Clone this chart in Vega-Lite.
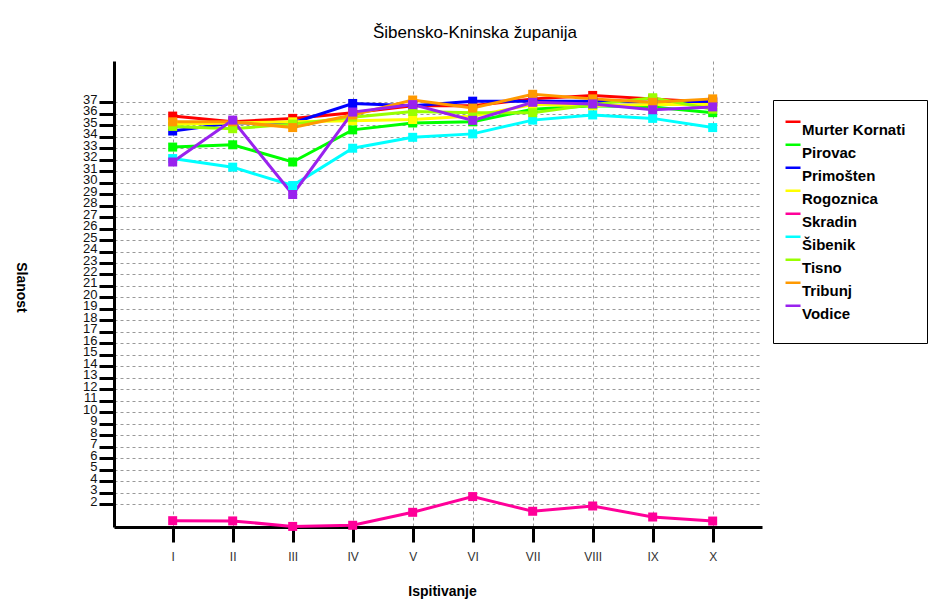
{
  "$schema": "https://vega.github.io/schema/vega-lite/v6.json",
  "width": 648,
  "height": 466,
  "autosize": "none",
  "padding": {"left": 114, "top": 61, "right": 170, "bottom": 74},
  "background": "white",
  "title": {"text": "Šibensko-Kninska županija", "font": "Liberation Sans", "fontSize": 17, "fontWeight": "normal", "color": "#000000", "anchor": "middle", "dx": 37, "offset": 19},
  "config": {"view": {"stroke": null}},
  "data": {"values": [
    {"postaja": "Murter Kornati", "ispitivanje": 1, "slanost": 35.8},
    {"postaja": "Murter Kornati", "ispitivanje": 2, "slanost": 35.3},
    {"postaja": "Murter Kornati", "ispitivanje": 3, "slanost": 35.6},
    {"postaja": "Murter Kornati", "ispitivanje": 4, "slanost": 36.1},
    {"postaja": "Murter Kornati", "ispitivanje": 5, "slanost": 36.7},
    {"postaja": "Murter Kornati", "ispitivanje": 6, "slanost": 36.7},
    {"postaja": "Murter Kornati", "ispitivanje": 7, "slanost": 37.3},
    {"postaja": "Murter Kornati", "ispitivanje": 8, "slanost": 37.6},
    {"postaja": "Murter Kornati", "ispitivanje": 9, "slanost": 37.3},
    {"postaja": "Murter Kornati", "ispitivanje": 10, "slanost": 37.0},
    {"postaja": "Pirovac", "ispitivanje": 1, "slanost": 33.1},
    {"postaja": "Pirovac", "ispitivanje": 2, "slanost": 33.3},
    {"postaja": "Pirovac", "ispitivanje": 3, "slanost": 31.8},
    {"postaja": "Pirovac", "ispitivanje": 4, "slanost": 34.6},
    {"postaja": "Pirovac", "ispitivanje": 5, "slanost": 35.2},
    {"postaja": "Pirovac", "ispitivanje": 6, "slanost": 35.3},
    {"postaja": "Pirovac", "ispitivanje": 7, "slanost": 36.4},
    {"postaja": "Pirovac", "ispitivanje": 8, "slanost": 36.7},
    {"postaja": "Pirovac", "ispitivanje": 9, "slanost": 36.6},
    {"postaja": "Pirovac", "ispitivanje": 10, "slanost": 36.1},
    {"postaja": "Primošten", "ispitivanje": 1, "slanost": 34.5},
    {"postaja": "Primošten", "ispitivanje": 2, "slanost": 35.2},
    {"postaja": "Primošten", "ispitivanje": 3, "slanost": 35.2},
    {"postaja": "Primošten", "ispitivanje": 4, "slanost": 36.9},
    {"postaja": "Primošten", "ispitivanje": 5, "slanost": 36.7},
    {"postaja": "Primošten", "ispitivanje": 6, "slanost": 37.1},
    {"postaja": "Primošten", "ispitivanje": 7, "slanost": 37.1},
    {"postaja": "Primošten", "ispitivanje": 8, "slanost": 37.1},
    {"postaja": "Primošten", "ispitivanje": 9, "slanost": 37.0},
    {"postaja": "Primošten", "ispitivanje": 10, "slanost": 37.1},
    {"postaja": "Rogoznica", "ispitivanje": 1, "slanost": 35.1},
    {"postaja": "Rogoznica", "ispitivanje": 2, "slanost": 35.2},
    {"postaja": "Rogoznica", "ispitivanje": 3, "slanost": 35.3},
    {"postaja": "Rogoznica", "ispitivanje": 4, "slanost": 35.4},
    {"postaja": "Rogoznica", "ispitivanje": 5, "slanost": 35.5},
    {"postaja": "Rogoznica", "ispitivanje": 6, "slanost": 35.8},
    {"postaja": "Rogoznica", "ispitivanje": 7, "slanost": 36.8},
    {"postaja": "Rogoznica", "ispitivanje": 8, "slanost": 36.7},
    {"postaja": "Rogoznica", "ispitivanje": 9, "slanost": 36.8},
    {"postaja": "Rogoznica", "ispitivanje": 10, "slanost": 36.8},
    {"postaja": "Skradin", "ispitivanje": 1, "slanost": 0.55},
    {"postaja": "Skradin", "ispitivanje": 2, "slanost": 0.53},
    {"postaja": "Skradin", "ispitivanje": 3, "slanost": 0.05},
    {"postaja": "Skradin", "ispitivanje": 4, "slanost": 0.15},
    {"postaja": "Skradin", "ispitivanje": 5, "slanost": 1.28},
    {"postaja": "Skradin", "ispitivanje": 6, "slanost": 2.65},
    {"postaja": "Skradin", "ispitivanje": 7, "slanost": 1.37},
    {"postaja": "Skradin", "ispitivanje": 8, "slanost": 1.83},
    {"postaja": "Skradin", "ispitivanje": 9, "slanost": 0.87},
    {"postaja": "Skradin", "ispitivanje": 10, "slanost": 0.52},
    {"postaja": "Šibenik", "ispitivanje": 1, "slanost": 32.1},
    {"postaja": "Šibenik", "ispitivanje": 2, "slanost": 31.35},
    {"postaja": "Šibenik", "ispitivanje": 3, "slanost": 29.75},
    {"postaja": "Šibenik", "ispitivanje": 4, "slanost": 33.0},
    {"postaja": "Šibenik", "ispitivanje": 5, "slanost": 33.95},
    {"postaja": "Šibenik", "ispitivanje": 6, "slanost": 34.25},
    {"postaja": "Šibenik", "ispitivanje": 7, "slanost": 35.45},
    {"postaja": "Šibenik", "ispitivanje": 8, "slanost": 35.9},
    {"postaja": "Šibenik", "ispitivanje": 9, "slanost": 35.6},
    {"postaja": "Šibenik", "ispitivanje": 10, "slanost": 34.8},
    {"postaja": "Tisno", "ispitivanje": 1, "slanost": 34.9},
    {"postaja": "Tisno", "ispitivanje": 2, "slanost": 34.7},
    {"postaja": "Tisno", "ispitivanje": 3, "slanost": 35.1},
    {"postaja": "Tisno", "ispitivanje": 4, "slanost": 35.7},
    {"postaja": "Tisno", "ispitivanje": 5, "slanost": 36.2},
    {"postaja": "Tisno", "ispitivanje": 6, "slanost": 36.1},
    {"postaja": "Tisno", "ispitivanje": 7, "slanost": 36.1},
    {"postaja": "Tisno", "ispitivanje": 8, "slanost": 36.8},
    {"postaja": "Tisno", "ispitivanje": 9, "slanost": 37.4},
    {"postaja": "Tisno", "ispitivanje": 10, "slanost": 36.4},
    {"postaja": "Tribunj", "ispitivanje": 1, "slanost": 35.3},
    {"postaja": "Tribunj", "ispitivanje": 2, "slanost": 35.3},
    {"postaja": "Tribunj", "ispitivanje": 3, "slanost": 34.8},
    {"postaja": "Tribunj", "ispitivanje": 4, "slanost": 35.9},
    {"postaja": "Tribunj", "ispitivanje": 5, "slanost": 37.2},
    {"postaja": "Tribunj", "ispitivanje": 6, "slanost": 36.5},
    {"postaja": "Tribunj", "ispitivanje": 7, "slanost": 37.7},
    {"postaja": "Tribunj", "ispitivanje": 8, "slanost": 37.3},
    {"postaja": "Tribunj", "ispitivanje": 9, "slanost": 37.0},
    {"postaja": "Tribunj", "ispitivanje": 10, "slanost": 37.3},
    {"postaja": "Vodice", "ispitivanje": 1, "slanost": 31.8},
    {"postaja": "Vodice", "ispitivanje": 2, "slanost": 35.45},
    {"postaja": "Vodice", "ispitivanje": 3, "slanost": 28.97},
    {"postaja": "Vodice", "ispitivanje": 4, "slanost": 36.15},
    {"postaja": "Vodice", "ispitivanje": 5, "slanost": 36.8},
    {"postaja": "Vodice", "ispitivanje": 6, "slanost": 35.43},
    {"postaja": "Vodice", "ispitivanje": 7, "slanost": 37.0},
    {"postaja": "Vodice", "ispitivanje": 8, "slanost": 36.86},
    {"postaja": "Vodice", "ispitivanje": 9, "slanost": 36.35},
    {"postaja": "Vodice", "ispitivanje": 10, "slanost": 36.6}
  ]},
  "encoding": {
    "x": {
      "field": "ispitivanje", "type": "quantitative",
      "scale": {"domain": [0.022, 10.822], "nice": false, "zero": false},
      "axis": {
        "values": [1, 2, 3, 4, 5, 6, 7, 8, 9, 10],
        "labelExpr": "['','I','II','III','IV','V','VI','VII','VIII','IX','X'][datum.value]",
        "title": "Ispitivanje", "titleFont": "Liberation Sans", "titleFontSize": 14, "titleFontWeight": "bold", "titleColor": "#000000",
        "titleX": 328, "titleY": 64, "titleBaseline": "middle", "titleAlign": "center",
        "labelFont": "Liberation Sans", "labelFontSize": 12, "labelColor": "#333333", "labelPadding": 9, "labelAngle": 0,
        "tickSize": 15, "tickWidth": 3, "tickColor": "#000000",
        "domainWidth": 3, "domainColor": "#000000",
        "grid": true, "gridDash": [3, 3], "gridColor": "#999999", "gridWidth": 1
      }
    },
    "y": {
      "field": "slanost", "type": "quantitative",
      "scale": {"domain": [0, 40.6], "nice": false, "zero": true},
      "axis": {
        "values": [2, 3, 4, 5, 6, 7, 8, 9, 10, 11, 12, 13, 14, 15, 16, 17, 18, 19, 20, 21, 22, 23, 24, 25, 26, 27, 28, 29, 30, 31, 32, 33, 34, 35, 36, 37],
        "title": "Slanost", "titleFont": "Liberation Sans", "titleFontSize": 14, "titleFontWeight": "bold", "titleColor": "#000000",
        "titleAngle": 90, "titleX": -94, "titleY": 226, "titleAlign": "center", "titleBaseline": "middle",
        "labelFont": "Liberation Sans", "labelFontSize": 13, "labelColor": "#111111", "labelPadding": 2, "labelOverlap": false, "labelOffset": -3,
        "tickSize": 15, "tickWidth": 3, "tickColor": "#000000",
        "domainWidth": 3, "domainColor": "#000000",
        "grid": true, "gridDash": [3, 3], "gridColor": "#999999", "gridWidth": 1
      }
    },
    "color": {
      "field": "postaja", "type": "nominal",
      "scale": {
        "domain": ["Murter Kornati", "Pirovac", "Primošten", "Rogoznica", "Skradin", "Šibenik", "Tisno", "Tribunj", "Vodice"],
        "range": ["#FF0000", "#00FF00", "#0000FF", "#FFFF00", "#FF0099", "#00FFFF", "#99FF00", "#FF9900", "#9922EE"]
      },
      "legend": {
        "title": null, "orient": "none", "legendX": 659, "legendY": 39,
        "strokeColor": "#000000", "fillColor": "#FFFFFF", "padding": 21,
        "labelFont": "Liberation Sans", "labelFontSize": 15, "labelFontWeight": "bold", "labelColor": "#000000",
        "labelOffset": -10, "rowPadding": 1,
        "symbolType": "M-2.33,-1.1L-0.33,-1.1", "symbolSize": 225, "symbolStrokeWidth": 2.5
      }
    }
  },
  "layer": [
    {"mark": {"type": "line", "strokeWidth": 3}},
    {"mark": {"type": "point", "shape": "square", "filled": true, "size": 81, "opacity": 1}}
  ]
}
